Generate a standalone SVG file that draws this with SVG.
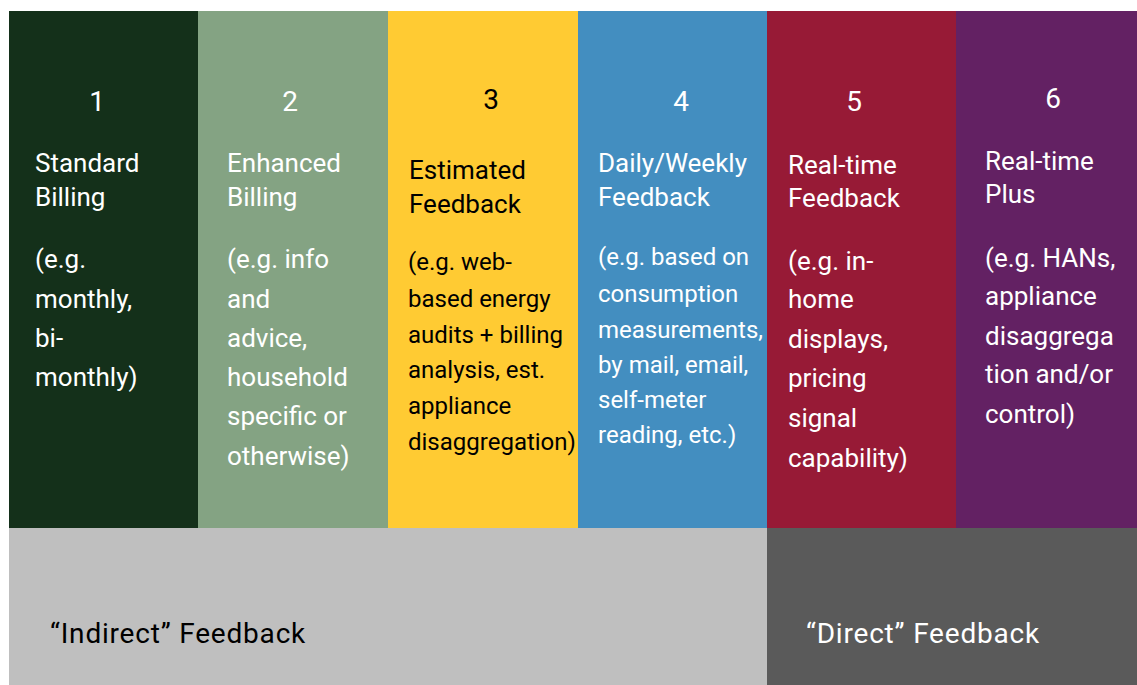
<svg xmlns="http://www.w3.org/2000/svg" width="1137" height="685" viewBox="0 0 1137 685">
  <style>
    text { font-family: Roboto, "Liberation Sans", sans-serif; font-weight: 400; }
    .num { font-size: 28px; text-anchor: middle; }
    .ttl { font-size: 26px; }
    .dsc { font-size: 26px; }
    .dsc-s { font-size: 24px; }
    .lt { fill: #ffffff; }
    .dk { fill: #000000; }
    .band { font-size: 28px; letter-spacing: 0.8px; }
  </style>
  <rect width="1137" height="685" fill="#ffffff"/>

  <!-- Level 1 -->
  <g id="level1">
    <rect x="9" y="11" width="189" height="517" fill="#14301a"/>
    <text class="num lt" x="97" y="111">1</text>
    <text class="ttl lt" x="35" y="172">Standard</text>
    <text class="ttl lt" x="35" y="206">Billing</text>
    <text class="dsc lt" x="35" y="268">(e.g.</text>
    <text class="dsc lt" x="35" y="308">monthly,</text>
    <text class="dsc lt" x="35" y="347">bi-</text>
    <text class="dsc lt" x="35" y="386">monthly)</text>
  </g>

  <!-- Level 2 -->
  <g id="level2">
    <rect x="198" y="11" width="190" height="517" fill="#84a383"/>
    <text class="num lt" x="290" y="111">2</text>
    <text class="ttl lt" x="227" y="172">Enhanced</text>
    <text class="ttl lt" x="227" y="206">Billing</text>
    <text class="dsc lt" x="227" y="268">(e.g. info</text>
    <text class="dsc lt" x="227" y="308">and</text>
    <text class="dsc lt" x="227" y="347">advice,</text>
    <text class="dsc lt" x="227" y="386">household</text>
    <text class="dsc lt" x="227" y="425">specific or</text>
    <text class="dsc lt" x="227" y="465">otherwise)</text>
  </g>

  <!-- Level 3 -->
  <g id="level3">
    <rect x="388" y="11" width="190" height="517" fill="#ffcb33"/>
    <text class="num dk" x="491" y="109">3</text>
    <text class="ttl dk" x="409" y="179">Estimated</text>
    <text class="ttl dk" x="409" y="213">Feedback</text>
    <text class="dsc-s dk" x="408" y="270">(e.g. web-</text>
    <text class="dsc-s dk" x="408" y="307">based energy</text>
    <text class="dsc-s dk" x="408" y="343">audits + billing</text>
    <text class="dsc-s dk" x="408" y="378">analysis, est.</text>
    <text class="dsc-s dk" x="408" y="414">appliance</text>
    <text class="dsc-s dk" x="408" y="450">disaggregation)</text>
  </g>

  <!-- Level 4 -->
  <g id="level4">
    <rect x="578" y="11" width="189" height="517" fill="#438ec0"/>
    <text class="num lt" x="681" y="111">4</text>
    <text class="ttl lt" x="598" y="172">Daily/Weekly</text>
    <text class="ttl lt" x="598" y="206">Feedback</text>
    <text class="dsc-s lt" x="598" y="265">(e.g. based on</text>
    <text class="dsc-s lt" x="598" y="302">consumption</text>
    <text class="dsc-s lt" x="598" y="338">measurements,</text>
    <text class="dsc-s lt" x="598" y="373">by mail, email,</text>
    <text class="dsc-s lt" x="598" y="408">self-meter</text>
    <text class="dsc-s lt" x="598" y="443">reading, etc.)</text>
  </g>

  <!-- Level 5 -->
  <g id="level5">
    <rect x="767" y="11" width="189" height="517" fill="#971a36"/>
    <text class="num lt" x="854" y="111">5</text>
    <text class="ttl lt" x="788" y="174">Real-time</text>
    <text class="ttl lt" x="788" y="207">Feedback</text>
    <text class="dsc lt" x="788" y="270">(e.g. in-</text>
    <text class="dsc lt" x="788" y="308">home</text>
    <text class="dsc lt" x="788" y="348">displays,</text>
    <text class="dsc lt" x="788" y="387">pricing</text>
    <text class="dsc lt" x="788" y="427">signal</text>
    <text class="dsc lt" x="788" y="467">capability)</text>
  </g>

  <!-- Level 6 -->
  <g id="level6">
    <rect x="956" y="11" width="181" height="517" fill="#632163"/>
    <text class="num lt" x="1053" y="108">6</text>
    <text class="ttl lt" x="985" y="170">Real-time</text>
    <text class="ttl lt" x="985" y="203">Plus</text>
    <text class="dsc lt" x="985" y="267">(e.g. HANs,</text>
    <text class="dsc lt" x="985" y="305">appliance</text>
    <text class="dsc lt" x="985" y="345">disaggrega</text>
    <text class="dsc lt" x="985" y="383">tion and/or</text>
    <text class="dsc lt" x="985" y="423">control)</text>
  </g>

  <!-- Feedback categories -->
  <g id="indirect">
    <rect x="9" y="528" width="758" height="157" fill="#bfbfbf"/>
    <text class="band dk" x="50" y="643">“Indirect” Feedback</text>
  </g>
  <g id="direct">
    <rect x="767" y="528" width="370" height="157" fill="#5a5a5a"/>
    <text class="band lt" x="806" y="643">“Direct” Feedback</text>
  </g>
</svg>
